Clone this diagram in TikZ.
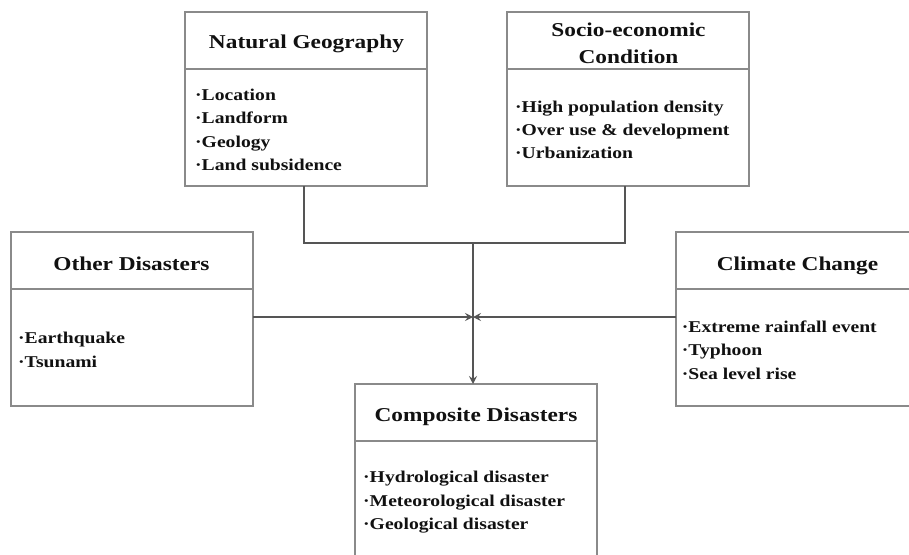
\documentclass[tikz,border=0pt]{standalone}
\usepackage{fontspec}
\usetikzlibrary{arrows.meta}
\newfontfamily\boxfont{Liberation Serif Bold}[FakeStretch=1.19]
\definecolor{framegray}{HTML}{8A8A8A}
\definecolor{linkgray}{HTML}{555555}
\definecolor{ink}{HTML}{111111}
\begin{document}
\begin{tikzpicture}[x=1pt,y=-1pt,
  panel/.style={draw=framegray, line width=1.2pt, inner sep=0pt, outer sep=0pt,
    minimum width=242pt, minimum height=174pt, anchor=north west},
  divider/.style={draw=framegray, line width=1.2pt},
  heading/.style={font=\boxfont\fontsize{19.6}{27}\selectfont, text=ink, inner sep=0pt, align=center},
  items/.style={font=\boxfont\fontsize{16.5}{23.4}\selectfont, text=ink, inner sep=0pt,
    align=left, anchor=north west},
  link/.style={draw=linkgray, line width=1.2pt},
  flow/.style={link, -{Stealth[length=8pt,width=8pt,inset=3pt]}}
]
\useasboundingbox (0,0) rectangle (909,554);
\clip (0,0) rectangle (909,554);
\fill[white] (0,0) rectangle (909,554);

% panels
\node[panel] (ng) at (185,12) {};
\node[panel] (se) at (507,12) {};
\node[panel] (od) at (11,232) {};
\node[panel] (cc) at (676,232) {};
\node[panel] (cd) at (355,384) {};

% header dividers
\foreach \p in {ng,se,od,cc,cd}
  \draw[divider] ([yshift=-57pt]\p.north west) -- ([yshift=-57pt]\p.north east);

% headings
\node[heading, anchor=base] (ngT) at (306.5,48.3) {Natural Geography};
\node[heading, anchor=north] (seT) at (628.5,22.5) {Socio-economic\\Condition};
\node[heading, anchor=base] (odT) at (131.5,270) {Other Disasters};
\node[heading, anchor=base] (ccT) at (797.5,270) {Climate Change};
\node[heading, anchor=base] (cdT) at (476,421) {Composite Disasters};

% item lists
\node[items] (ngL) at (195,88.8) {·Location\\·Landform\\·Geology\\·Land subsidence};
\node[items] (seL) at (515,100.5) {·High population density\\·Over use \& development\\·Urbanization};
\node[items] (odL) at (18,332) {·Earthquake\\·Tsunami};
\node[items] (ccL) at (681.7,320.5) {·Extreme rainfall event\\·Typhoon\\·Sea level rise};
\node[items] (cdL) at (363,471.3) {·Hydrological disaster\\·Meteorological disaster\\·Geological disaster};

% connectors
\coordinate (join) at (473,243);
\coordinate (meet) at (473,317);
\draw[link] ([xshift=-2pt]ng.south) |- (join) -| ([xshift=-3pt]se.south);
\draw[flow] (join) -- (join |- cd.north);
\draw[flow] (od.east |- meet) -- (meet);
\draw[flow] (cc.west |- meet) -- (meet);
\end{tikzpicture}
\end{document}
